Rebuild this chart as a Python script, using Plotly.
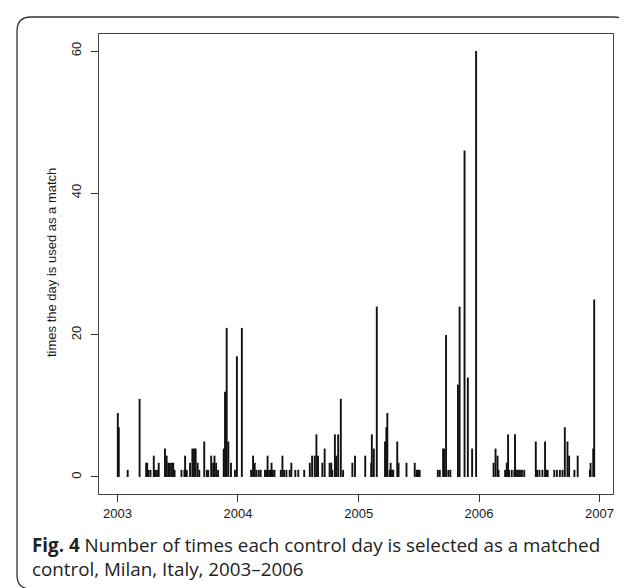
import plotly.graph_objects as go
from datetime import date, timedelta

# ---- data: control days and number of times each was used as a match ----
dates = [
    "2003-01-02", "2003-01-05", "2003-02-01", "2003-03-09", "2003-03-29", "2003-04-01",
    "2003-04-05", "2003-04-11", "2003-04-21", "2003-04-25", "2003-05-01", "2003-05-06",
    "2003-05-25", "2003-05-30", "2003-06-04", "2003-06-09", "2003-06-15", "2003-06-19",
    "2003-06-23", "2003-07-14", "2003-07-23", "2003-07-25", "2003-07-30", "2003-08-09",
    "2003-08-16", "2003-08-21", "2003-08-26", "2003-09-01", "2003-09-06", "2003-09-21",
    "2003-09-29", "2003-10-03", "2003-10-12", "2003-10-18", "2003-10-22", "2003-10-27",
    "2003-11-02", "2003-11-19", "2003-11-23", "2003-11-28", "2003-12-03", "2003-12-11",
    "2003-12-23", "2003-12-29",
    "2004-01-13", "2004-02-10", "2004-02-16", "2004-02-21", "2004-02-26", "2004-03-04",
    "2004-03-10", "2004-03-23", "2004-03-28", "2004-03-31", "2004-04-05", "2004-04-10",
    "2004-04-12", "2004-04-16", "2004-04-21", "2004-05-10", "2004-05-15", "2004-05-20",
    "2004-05-27", "2004-06-06", "2004-06-11", "2004-06-23", "2004-07-02", "2004-07-20",
    "2004-08-06", "2004-08-13", "2004-08-21", "2004-08-26", "2004-08-31", "2004-09-13",
    "2004-09-20", "2004-10-05", "2004-10-10", "2004-10-13", "2004-10-21", "2004-10-25",
    "2004-10-31", "2004-11-08", "2004-11-15", "2004-12-13", "2004-12-21",
    "2005-01-21", "2005-02-08", "2005-02-10", "2005-02-16", "2005-02-25", "2005-03-22",
    "2005-03-26", "2005-03-29", "2005-04-05", "2005-04-08", "2005-04-12", "2005-04-16",
    "2005-04-28", "2005-05-02", "2005-05-26", "2005-06-20", "2005-06-26", "2005-06-30",
    "2005-07-05", "2005-08-29", "2005-09-04", "2005-09-14", "2005-09-17", "2005-09-23",
    "2005-09-30", "2005-10-06", "2005-10-29", "2005-11-03", "2005-11-18", "2005-11-28",
    "2005-12-11", "2005-12-23",
    "2006-02-14", "2006-02-20", "2006-02-26", "2006-03-01", "2006-03-21", "2006-03-26",
    "2006-03-30", "2006-04-02", "2006-04-10", "2006-04-18", "2006-04-20", "2006-04-23",
    "2006-04-29", "2006-05-05", "2006-05-11", "2006-05-18", "2006-06-22", "2006-06-26",
    "2006-07-03", "2006-07-12", "2006-07-20", "2006-07-23", "2006-07-28", "2006-08-17",
    "2006-08-25", "2006-09-03", "2006-09-11", "2006-09-18", "2006-09-26", "2006-10-01",
    "2006-10-17", "2006-10-27", "2006-12-03", "2006-12-05", "2006-12-13", "2006-12-16",
]
times_used = [
    9, 7, 1, 11, 2, 2,
    1, 1, 3, 1, 1, 2,
    4, 3, 2, 2, 2, 2,
    1, 1, 1, 3, 1, 2,
    4, 4, 4, 2, 1, 5,
    1, 1, 3, 2, 3, 2,
    1, 4, 12, 21, 5, 2,
    1, 17,
    21, 1, 3, 2, 1, 1,
    1, 1, 1, 3, 1, 1,
    2, 1, 1, 1, 3, 1,
    1, 1, 2, 1, 1, 1,
    2, 3, 3, 6, 3, 2,
    4, 2, 2, 1, 6, 3,
    6, 11, 1, 2, 3,
    3, 2, 6, 4, 24, 5,
    7, 9, 1, 2, 1, 1,
    5, 2, 2, 2, 1, 1,
    1, 1, 1, 4, 4, 20,
    1, 1, 13, 24, 46, 14,
    4, 60,
    2, 4, 3, 1, 1, 2,
    6, 1, 1, 1, 6, 1,
    1, 1, 1, 1, 5, 1,
    1, 1, 5, 1, 1, 1,
    1, 1, 1, 7, 5, 3,
    1, 3, 1, 2, 4, 25,
]
year_ticks = ["2003", "2004", "2005", "2006", "2007"]
y_ticks = [0, 20, 40, 60]

# ---- figure geometry (pixels) ----
W, H = 627, 588
L, R, T, B = 91, 22, 26, 102
pw, ph = W - L - R, H - T - B


def px(x):
    return (x - L) / pw


def py(y):
    return (H - B - y) / ph


# R-style axis ranges: data range extended by 4% on each side
d_objs = [date.fromisoformat(d) for d in dates]
d0, d1 = min(d_objs), max(d_objs)
ext = (d1 - d0).days * 0.04
xr = [str(d0 - timedelta(days=ext)), str(d1 + timedelta(days=ext))]
ymax = max(times_used)
yr = [-0.04 * ymax, ymax * 1.04]

# type="h" vertical lines
xs, ys = [], []
for d, v in zip(dates, times_used):
    xs += [d, d, None]
    ys += [0, v, None]

fig = go.Figure()
fig.add_trace(go.Scatter(x=xs, y=ys, mode="lines",
                         line=dict(color="#111111", width=1.9),
                         hoverinfo="skip", showlegend=False))

axis_font = dict(family="Liberation Sans, Arial, sans-serif", size=13, color="#1a1a1a")
fig.update_layout(
    width=W, height=H,
    margin=dict(l=L, r=R, t=T, b=B),
    paper_bgcolor="white", plot_bgcolor="white",
    xaxis=dict(type="date", range=xr, showgrid=False, zeroline=False,
               tickvals=[y + "-01-01" for y in year_ticks], ticktext=year_ticks,
               ticks="outside", ticklen=7, tickwidth=1, tickcolor="#333",
               showline=True, linecolor="#444", linewidth=1, mirror=True,
               tickfont=axis_font),
    yaxis=dict(range=yr, showgrid=False, zeroline=False,
               tickvals=y_ticks, ticktext=[str(v) for v in y_ticks],
               tickangle=-90, ticks="outside", ticklen=7, tickwidth=1, tickcolor="#333",
               showline=True, linecolor="#444", linewidth=1, mirror=True,
               tickfont=axis_font, ticklabelstandoff=5),
)

# y axis title
fig.add_annotation(text="times the day is used as a match", textangle=-90,
                   xref="paper", yref="paper", x=px(43), y=py(255),
                   xanchor="center", yanchor="middle", showarrow=False,
                   font=axis_font)

# caption (two lines)
cap_font = dict(family="Open Sans, Noto Sans, sans-serif", size=18.8, color="#222")
fig.add_annotation(text="<b>Fig. 4</b> Number of times each control day is selected as a matched"
                        "<br>control, Milan, Italy, 2003–2006",
                   xref="paper", yref="paper", x=px(22), y=py(522),
                   xanchor="left", yanchor="top", align="left", showarrow=False,
                   font=cap_font)

# rounded frame
x0, y0, x1, y1, r = 9, 9, 620, 581, 14
path = (f"M {px(x0 + r)},{py(y0)} L {px(x1 - r)},{py(y0)} "
        f"Q {px(x1)},{py(y0)} {px(x1)},{py(y0 + r)} "
        f"L {px(x1)},{py(y1 - r)} Q {px(x1)},{py(y1)} {px(x1 - r)},{py(y1)} "
        f"L {px(x0 + r)},{py(y1)} Q {px(x0)},{py(y1)} {px(x0)},{py(y1 - r)} "
        f"L {px(x0)},{py(y0 + r)} Q {px(x0)},{py(y0)} {px(x0 + r)},{py(y0)} Z")
fig.add_shape(type="path", path=path, xref="paper", yref="paper",
              line=dict(color="#333", width=1.3), layer="above")

fig.write_html("out.html")
